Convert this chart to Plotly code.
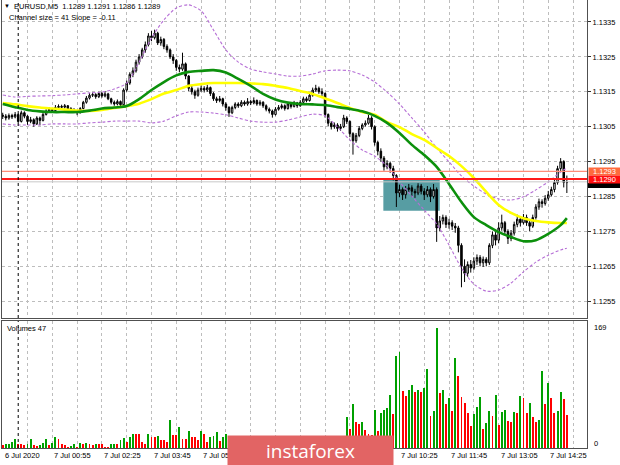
import plotly.graph_objects as go

W, H = 620, 465
BASE = 1.1300
PIP = 0.0001

# ---------------- data ----------------
bar_index = list(range(183))

open_pips = [
    8.3, 8.0, 7.5, 8.2, 7.8, 8.5, 6.5, 9.0, 8.0, 6.5,
    7.0, 5.8, 7.5, 6.8, 8.5, 9.5, 10.0, 9.6, 10.5, 10.8,
    10.6, 11.0, 10.2, 9.8, 9.4, 9.0, 10.2, 12.0, 13.2, 14.0,
    14.2, 13.6, 14.5, 13.8, 14.4, 13.0, 12.0, 11.5, 12.2, 11.3,
    15.5, 17.5, 20.0, 21.0, 23.5, 25.0, 27.0, 28.5, 31.0, 30.5,
    31.8, 29.0, 30.0, 28.0, 27.0, 25.0, 24.0, 22.0, 21.5, 23.0,
    19.5, 16.0, 15.0, 14.0, 15.5, 16.0, 15.5, 16.2, 14.5, 13.0,
    12.5, 13.0, 11.5, 10.5, 9.0, 10.5, 11.5, 11.0, 12.0, 11.5,
    12.2, 11.8, 12.5, 11.5, 12.0, 11.0, 10.0, 9.5, 8.5, 10.0,
    10.5, 11.0, 10.2, 11.5, 10.8, 11.8, 11.0, 12.0, 13.0, 12.5,
    14.0, 15.5, 16.0, 15.0, 14.5, 8.5, 6.0, 5.0, 5.5, 4.5,
    5.0, 7.5, 6.5, 3.0, 1.0, 2.5, 4.5, 5.5, 6.0, 7.5,
    5.0, 0.5, -2.0, -4.0, -6.5, -5.5, -7.0, -9.0, -14.0, -13.0,
    -14.5, -13.0, -12.5, -13.5, -14.0, -12.0, -13.5, -14.5, -13.0, -15.0,
    -13.0, -24.0, -22.0, -21.0, -23.0, -22.5, -23.5, -24.0, -29.0, -35.0,
    -37.0, -34.5, -35.5, -33.5, -32.5, -34.0, -33.0, -34.0, -29.0, -26.0,
    -27.5, -24.0, -22.5, -25.0, -27.0, -25.5, -23.0, -21.5, -22.5, -21.0,
    -22.5, -23.5, -21.0, -18.0, -16.5, -17.0, -15.5, -14.5, -13.0, -11.0,
    -7.0, -5.0, -11.0,
]
high_pips = [
    9.0, 8.6, 8.8, 8.7, 9.2, 8.8, 9.6, 9.4, 8.3, 7.8,
    7.4, 8.0, 7.9, 9.0, 10.0, 10.6, 10.4, 11.2, 11.4, 11.3,
    11.5, 11.2, 10.6, 10.3, 9.8, 10.6, 12.4, 13.8, 14.6, 14.8,
    14.6, 15.0, 14.9, 15.2, 14.7, 13.3, 12.5, 12.8, 12.5, 16.0,
    18.2, 20.6, 22.0, 24.2, 25.8, 27.6, 29.4, 31.8, 32.4, 32.8,
    32.2, 30.8, 30.4, 28.6, 27.4, 25.8, 24.4, 22.8, 26.2, 23.4,
    19.8, 16.8, 15.6, 16.2, 16.8, 16.6, 17.0, 16.5, 14.9, 13.6,
    13.8, 13.3, 12.0, 10.9, 11.0, 12.0, 12.0, 12.6, 12.5, 13.2,
    12.7, 13.4, 12.8, 12.6, 12.3, 11.4, 10.5, 9.9, 10.6, 11.2,
    11.6, 11.4, 12.0, 11.9, 12.4, 12.1, 12.6, 13.6, 13.6, 14.6,
    16.2, 17.0, 16.5, 16.0, 14.8, 8.8, 6.6, 6.2, 6.0, 5.8,
    8.4, 8.0, 6.8, 3.4, 3.2, 5.2, 6.0, 6.8, 8.4, 8.0,
    5.4, 1.0, -1.2, -3.4, -4.6, -5.0, -6.2, -8.6, -11.6, -12.4,
    -12.0, -11.4, -11.8, -12.8, -11.2, -11.4, -12.6, -12.0, -12.4, -11.4,
    -12.4, -20.6, -20.2, -20.4, -21.4, -21.8, -22.6, -23.4, -28.4, -33.0,
    -33.6, -33.2, -32.4, -31.6, -31.8, -32.2, -32.4, -28.4, -25.0, -25.2,
    -22.4, -20.2, -22.0, -24.4, -24.6, -22.2, -20.2, -20.8, -20.0, -20.2,
    -21.6, -20.2, -17.2, -15.6, -15.8, -14.6, -13.4, -12.2, -10.2, -6.2,
    -4.0, -4.6, -9.0,
]
low_pips = [
    7.2, 6.8, 7.0, 7.2, 7.4, 6.0, 6.2, 7.4, 5.5, 6.0,
    5.0, 5.5, 5.4, 6.5, 8.2, 9.2, 9.0, 9.4, 10.0, 10.1,
    10.2, 9.7, 9.2, 9.0, 8.3, 8.8, 10.0, 11.6, 12.8, 13.5,
    13.0, 13.2, 13.3, 13.4, 12.6, 11.4, 11.0, 11.1, 10.8, 11.0,
    15.0, 17.0, 19.2, 20.5, 22.8, 24.5, 26.2, 28.0, 29.5, 30.0,
    28.4, 28.2, 27.2, 26.2, 24.4, 23.0, 21.0, 20.6, 21.0, 18.6,
    15.2, 14.2, 13.0, 13.6, 15.0, 14.8, 15.0, 13.8, 12.4, 11.8,
    12.0, 10.8, 9.6, 7.8, 8.6, 10.0, 10.4, 10.6, 11.0, 11.0,
    11.2, 11.4, 11.0, 11.0, 10.4, 9.4, 8.8, 7.6, 8.2, 9.6,
    10.0, 9.6, 9.9, 10.2, 10.5, 10.4, 10.7, 11.6, 12.0, 12.2,
    13.6, 15.0, 14.4, 13.8, 7.6, 5.2, 4.2, 4.4, 3.6, 3.8,
    4.6, 5.8, 2.0, -3.0, 0.4, 2.0, 4.0, 5.0, 5.6, 4.2,
    -0.4, -3.2, -5.0, -7.6, -7.2, -8.2, -10.4, -18.0, -15.2, -16.0,
    -15.6, -13.8, -15.0, -15.4, -14.6, -14.4, -16.0, -15.2, -16.6, -15.6,
    -28.0, -25.0, -23.0, -24.0, -24.2, -24.6, -25.4, -31.0, -41.0, -39.5,
    -38.0, -36.8, -36.0, -34.6, -35.0, -35.2, -35.0, -34.6, -29.8, -29.0,
    -28.4, -24.8, -26.0, -28.6, -27.8, -26.2, -23.8, -23.6, -23.0, -23.4,
    -25.0, -24.0, -21.6, -18.8, -18.2, -17.6, -16.2, -15.0, -13.8, -11.6,
    -7.8, -12.4, -14.0,
]
close_pips = [
    8.0, 7.5, 8.2, 7.8, 8.5, 6.5, 9.0, 8.0, 6.5, 7.0,
    5.8, 7.5, 6.8, 8.5, 9.5, 10.0, 9.6, 10.5, 10.8, 10.6,
    11.0, 10.2, 9.8, 9.4, 9.0, 10.2, 12.0, 13.2, 14.0, 14.2,
    13.6, 14.5, 13.8, 14.4, 13.0, 12.0, 11.5, 12.2, 11.3, 15.5,
    17.5, 20.0, 21.0, 23.5, 25.0, 27.0, 28.5, 31.0, 30.5, 31.8,
    29.0, 30.0, 28.0, 27.0, 25.0, 24.0, 22.0, 21.5, 23.0, 19.5,
    16.0, 15.0, 14.0, 15.5, 16.0, 15.5, 16.2, 14.5, 13.0, 12.5,
    13.0, 11.5, 10.5, 9.0, 10.5, 11.5, 11.0, 12.0, 11.5, 12.2,
    11.8, 12.5, 11.5, 12.0, 11.0, 10.0, 9.5, 8.5, 10.0, 10.5,
    11.0, 10.2, 11.5, 10.8, 11.8, 11.0, 12.0, 13.0, 12.5, 14.0,
    15.5, 16.0, 15.0, 14.5, 8.5, 6.0, 5.0, 5.5, 4.5, 5.0,
    7.5, 6.5, 3.0, 1.0, 2.5, 4.5, 5.5, 6.0, 7.5, 5.0,
    0.5, -2.0, -4.0, -6.5, -5.5, -7.0, -9.0, -14.0, -13.0, -14.5,
    -13.0, -12.5, -13.5, -14.0, -12.0, -13.5, -14.5, -13.0, -15.0, -13.0,
    -24.0, -22.0, -21.0, -23.0, -22.5, -23.5, -24.0, -29.0, -35.0, -37.0,
    -34.5, -35.5, -33.5, -32.5, -34.0, -33.0, -34.0, -29.0, -26.0, -27.5,
    -24.0, -22.5, -25.0, -27.0, -25.5, -23.0, -21.5, -22.5, -21.0, -22.5,
    -23.5, -21.0, -18.0, -16.5, -17.0, -15.5, -14.5, -13.0, -11.0, -7.0,
    -5.0, -11.0, -11.0,
]
volume = [
    4, 5, 6, 9, 13, 5, 5, 4, 5, 13,
    4, 3, 4, 7, 13, 4, 7, 15, 12, 6,
    4, 2, 3, 5, 2, 7, 6, 7, 5, 4,
    5, 5, 5, 2, 2, 5, 6, 5, 11, 14,
    9, 15, 20, 20, 20, 9, 6, 20, 16, 16,
    17, 11, 11, 8, 39, 19, 18, 30, 12, 12,
    24, 16, 16, 11, 24, 20, 9, 16, 17, 23,
    10, 15, 20, 12, 8, 14, 10, 6, 9, 12,
    7, 5, 8, 11, 6, 9, 13, 7, 10, 8,
    5, 7, 12, 9, 6, 8, 11, 14, 10, 13,
    15, 9, 12, 8, 14, 11, 7, 10, 13, 9,
    12, 43, 27, 62, 37, 34, 37, 26, 20, 19,
    53, 24, 49, 54, 56, 75, 48, 130, 135, 80,
    73, 82, 89, 79, 82, 79, 84, 112, 45, 52,
    169, 77, 82, 62, 71, 52, 127, 102, 72, 64,
    49, 31, 48, 58, 72, 27, 35, 52, 45, 75,
    32, 51, 53, 38, 37, 51, 49, 74, 70, 49,
    64, 43, 36, 39, 109, 62, 92, 70, 49, 52,
    79, 69, 47,
]

ma_index = list(range(0, 181, 4)) + [182]
ma_green_pips = [
    11.5, 10.6, 9.8, 9.4, 9.2, 9.2, 9.2, 9.6, 10.2, 10.5,
    10.9, 12.9, 15.5, 17.8, 19.7, 20.7, 21.0, 21.2, 20.5, 18.7,
    16.7, 14.4, 12.8, 11.9, 11.5, 11.4, 11.2, 10.6, 10.1, 9.4,
    8.1, 6.1, 3.2, -0.2, -3.1, -6.5, -11.4, -16.6, -20.9, -23.2,
    -25.2, -26.6, -27.8, -27.5, -25.7, -23.2, -21.2,
]
ma_yellow_pips = [
    11.8, 11.4, 10.9, 10.5, 10.2, 9.9, 9.6, 9.5, 9.8, 10.4,
    10.9, 11.6, 12.9, 14.5, 15.5, 16.7, 17.2, 17.5, 17.5, 17.5,
    17.4, 17.2, 16.7, 16.1, 15.2, 14.4, 13.1, 11.8, 10.4, 9.2,
    8.4, 6.3, 4.9, 2.9, 1.2, -1.1, -3.4, -6.3, -9.7, -13.7,
    -17.4, -19.7, -21.2, -22.0, -22.4, -22.6, -22.6,
]
band_upper_pips = [
    14.1, 13.5, 13.7, 13.8, 13.9, 14.1, 14.4, 14.7, 14.9, 15.8,
    17.5, 23.5, 30.4, 35.6, 39.0, 39.9, 38.2, 32.7, 27.0, 23.5,
    21.5, 20.7, 20.1, 19.5, 19.5, 20.1, 21.0, 21.2, 21.0, 19.8,
    17.8, 14.9, 11.5, 7.5, 3.5, -1.1, -5.1, -9.1, -12.0, -14.3,
    -15.7, -16.0, -15.1, -13.1, -10.8, -8.0, -6.8,
]
band_lower_pips = [
    5.8, 5.5, 5.5, 5.5, 5.8, 5.8, 5.8, 6.1, 6.3, 6.6,
    6.6, 6.6, 6.1, 6.6, 8.1, 9.2, 9.2, 8.9, 8.4, 7.5,
    6.6, 6.3, 6.3, 6.9, 7.8, 8.6, 8.1, 4.9, 1.2, -1.7,
    -3.4, -6.3, -10.8, -14.9, -18.9, -22.9, -28.9, -35.5, -40.1, -42.1,
    -41.8, -39.8, -36.6, -33.8, -31.8, -30.3, -29.8,
]

price_ticks = [1.1255, 1.1265, 1.1275, 1.1285, 1.1295, 1.1305, 1.1315, 1.1325, 1.1335]
time_tick_index = [0, 16, 32, 48, 64, 128, 144, 160, 176]
time_tick_text = ["6 Jul 2020", "7 Jul 00:55", "7 Jul 02:25", "7 Jul 03:45", "7 Jul 05:05",
                  "7 Jul 10:25", "7 Jul 11:45", "7 Jul 13:05", "7 Jul 14:25"]
day_separator_index = 5
zone_index = [122.8, 141.0]
zone_price = [1.12809, 1.12899]
level_prices = {"salmon": 1.12922, "red": 1.12900, "bid": 1.12892}


def to_price(ps):
    return [round(BASE + p * PIP, 6) for p in ps]


# ---------------- geometry (pixels) ----------------
PL, PR = 2, 587
MAIN_T, MAIN_B = 0, 318
VOL_T, VOL_B = 321, 448
FONT = "Liberation Sans, Arial, sans-serif"


def fx(px):
    return px / W


def fy(py):
    return 1 - py / H


X_RANGE = [-0.23, 188.5]
Y_RANGE = [1.125019, 1.134130]

fig = go.Figure()

band_line = dict(color="#B66FD6", width=1.1, dash="3px,2px", shape="spline", smoothing=0.8)
fig.add_trace(go.Scatter(x=ma_index, y=to_price(band_upper_pips), mode="lines",
                         line=band_line, hoverinfo="skip", showlegend=False))
fig.add_trace(go.Scatter(x=ma_index, y=to_price(band_lower_pips), mode="lines",
                         line=band_line, hoverinfo="skip", showlegend=False))

fig.add_trace(go.Scatter(
    x=ma_index, y=to_price(ma_yellow_pips), mode="lines",
    line=dict(color="#FFFF00", width=2.6, shape="spline", smoothing=0.8),
    hoverinfo="skip", xaxis="x", yaxis="y", showlegend=False))
fig.add_trace(go.Scatter(
    x=ma_index, y=to_price(ma_green_pips), mode="lines",
    line=dict(color="#0C900C", width=2.6, shape="spline", smoothing=0.8),
    hoverinfo="skip", xaxis="x", yaxis="y", showlegend=False))

fig.add_trace(go.Candlestick(
    x=bar_index, open=to_price(open_pips), high=to_price(high_pips),
    low=to_price(low_pips), close=to_price(close_pips),
    increasing=dict(line=dict(color="black", width=1), fillcolor="white"),
    decreasing=dict(line=dict(color="black", width=1), fillcolor="black"),
    whiskerwidth=0, hoverinfo="skip", showlegend=False, xaxis="x", yaxis="y"))

vol_colors = []
for i, v in enumerate(volume):
    if i > 0 and v > volume[i - 1]:
        vol_colors.append("#00A000")
    else:
        vol_colors.append("#FF0000")

fig.add_trace(go.Bar(
    x=bar_index, y=volume, marker=dict(color=vol_colors, line=dict(width=0)),
    width=0.62, hoverinfo="skip", showlegend=False, xaxis="x2", yaxis="y2"))

grid = dict(showgrid=True, gridcolor="#BDBDBD", griddash="dot", gridwidth=1)
frame = dict(showline=True, mirror=True, linecolor="#505050", linewidth=1, zeroline=False)

fig.update_layout(
    width=W, height=H, autosize=False,
    margin=dict(l=0, r=0, t=0, b=0, pad=0),
    paper_bgcolor="white", plot_bgcolor="white",
    font=dict(family=FONT, size=8, color="black"),
    showlegend=False, bargap=0,
    xaxis=dict(domain=[fx(PL), fx(PR)], range=X_RANGE, anchor="y",
               showticklabels=False, ticks="", tick0=0, dtick=8,
               rangeslider=dict(visible=False), **grid, **frame),
    yaxis=dict(domain=[fy(MAIN_B), fy(MAIN_T)], range=Y_RANGE, anchor="x",
               side="right", tickmode="array", tickvals=price_ticks,
               ticktext=[f"{p:.4f}" for p in price_ticks],
               ticks="outside", ticklen=3, tickcolor="#303030",
               tickfont=dict(size=7.5, family=FONT), **grid, **frame),
    xaxis2=dict(domain=[fx(PL), fx(PR)], range=X_RANGE, anchor="y2",
                showticklabels=False, ticks="", tick0=0, dtick=8, **grid, **frame),
    yaxis2=dict(domain=[fy(VOL_B), fy(VOL_T)], range=[0, 179], anchor="x2",
                side="right", showticklabels=False, showgrid=False, ticks="", **frame),
)

shapes = []
shapes.append(dict(type="rect", xref="x", yref="y", x0=zone_index[0], x1=zone_index[1],
                   y0=zone_price[0], y1=zone_price[1], fillcolor="#579DA3",
                   line=dict(width=0), layer="between"))
shapes.append(dict(type="line", xref="x domain", yref="y", x0=0, x1=1,
                   y0=level_prices["bid"], y1=level_prices["bid"],
                   line=dict(color="#C8C8C8", width=1), layer="above"))
shapes.append(dict(type="line", xref="x domain", yref="y", x0=0, x1=1,
                   y0=level_prices["salmon"], y1=level_prices["salmon"],
                   line=dict(color="#FF8C78", width=1.2), layer="above"))
shapes.append(dict(type="line", xref="x domain", yref="y", x0=0, x1=1,
                   y0=level_prices["red"], y1=level_prices["red"],
                   line=dict(color="#FF1A1A", width=2), layer="above"))
shapes.append(dict(type="line", xref="x", yref="paper", x0=day_separator_index,
                   x1=day_separator_index, y0=fy(MAIN_B), y1=fy(MAIN_T),
                   line=dict(color="black", width=1, dash="dot"), layer="above"))
shapes.append(dict(type="line", xref="x2", yref="paper", x0=day_separator_index,
                   x1=day_separator_index, y0=fy(VOL_B), y1=fy(VOL_T),
                   line=dict(color="black", width=1, dash="dot"), layer="above"))
shapes.append(dict(type="rect", xref="paper", yref="paper", x0=fx(588), x1=fx(620),
                   y0=fy(188), y1=fy(183), fillcolor="black", line=dict(width=0)))
fig.update_layout(shapes=shapes)

ann = []
ann.append(dict(text="\u25BC", x=fx(2), y=fy(6), xref="paper", yref="paper",
                xanchor="left", yanchor="middle", showarrow=False, font=dict(size=6)))
ann.append(dict(text="EURUSD,M5  1.1289 1.1291 1.1286 1.1289", x=fx(12), y=fy(6.5),
                xref="paper", yref="paper", xanchor="left", yanchor="middle",
                showarrow=False, font=dict(size=7.5)))
ann.append(dict(text="Channel size = 41 Slope = -0.11", x=fx(7), y=fy(18),
                xref="paper", yref="paper", xanchor="left", yanchor="middle",
                showarrow=False, font=dict(size=7.5)))
ann.append(dict(text="Volumes 47", x=fx(5), y=fy(328), xref="paper", yref="paper",
                xanchor="left", yanchor="middle", showarrow=False, font=dict(size=7.5)))
ann.append(dict(text="169", x=fx(592), y=fy(327), xref="paper", yref="paper",
                xanchor="left", yanchor="middle", showarrow=False, font=dict(size=7.5)))
ann.append(dict(text="0", x=fx(592), y=fy(443), xref="paper", yref="paper",
                xanchor="left", yanchor="middle", showarrow=False, font=dict(size=7.5)))
ann.append(dict(text="1.1293", x=fx(588), y=fy(171.5), xref="paper", yref="paper",
                xanchor="left", yanchor="middle", showarrow=False, bgcolor="#FF6A3D",
                width=31, height=7, borderpad=0, align="center",
                font=dict(size=7.5, color="white")))
ann.append(dict(text="1.1290", x=fx(588), y=fy(179.5), xref="paper", yref="paper",
                xanchor="left", yanchor="middle", showarrow=False, bgcolor="#FF1010",
                width=31, height=7, borderpad=0, align="center",
                font=dict(size=7.5, color="white")))
for idx, txt in zip(time_tick_index, time_tick_text):
    ann.append(dict(text=txt, x=idx, y=fy(455), xref="x2", yref="paper",
                    xanchor="left", yanchor="middle", showarrow=False, xshift=0,
                    font=dict(size=7.5)))
ann.append(dict(text="instaforex", x=fx(310.5), y=fy(450.5), xref="paper", yref="paper",
                xanchor="center", yanchor="middle", showarrow=False,
                width=165, height=29, bgcolor="#E26464", borderpad=0,
                font=dict(size=19, color="white", family="Open Sans, sans-serif")))
fig.update_layout(annotations=ann)

fig.write_html(
    "out.html",
    config={"displayModeBar": False, "staticPlot": True},
    post_script="document.body.style.margin='0';document.body.style.overflow='hidden';"
                "document.documentElement.style.overflow='hidden';")
